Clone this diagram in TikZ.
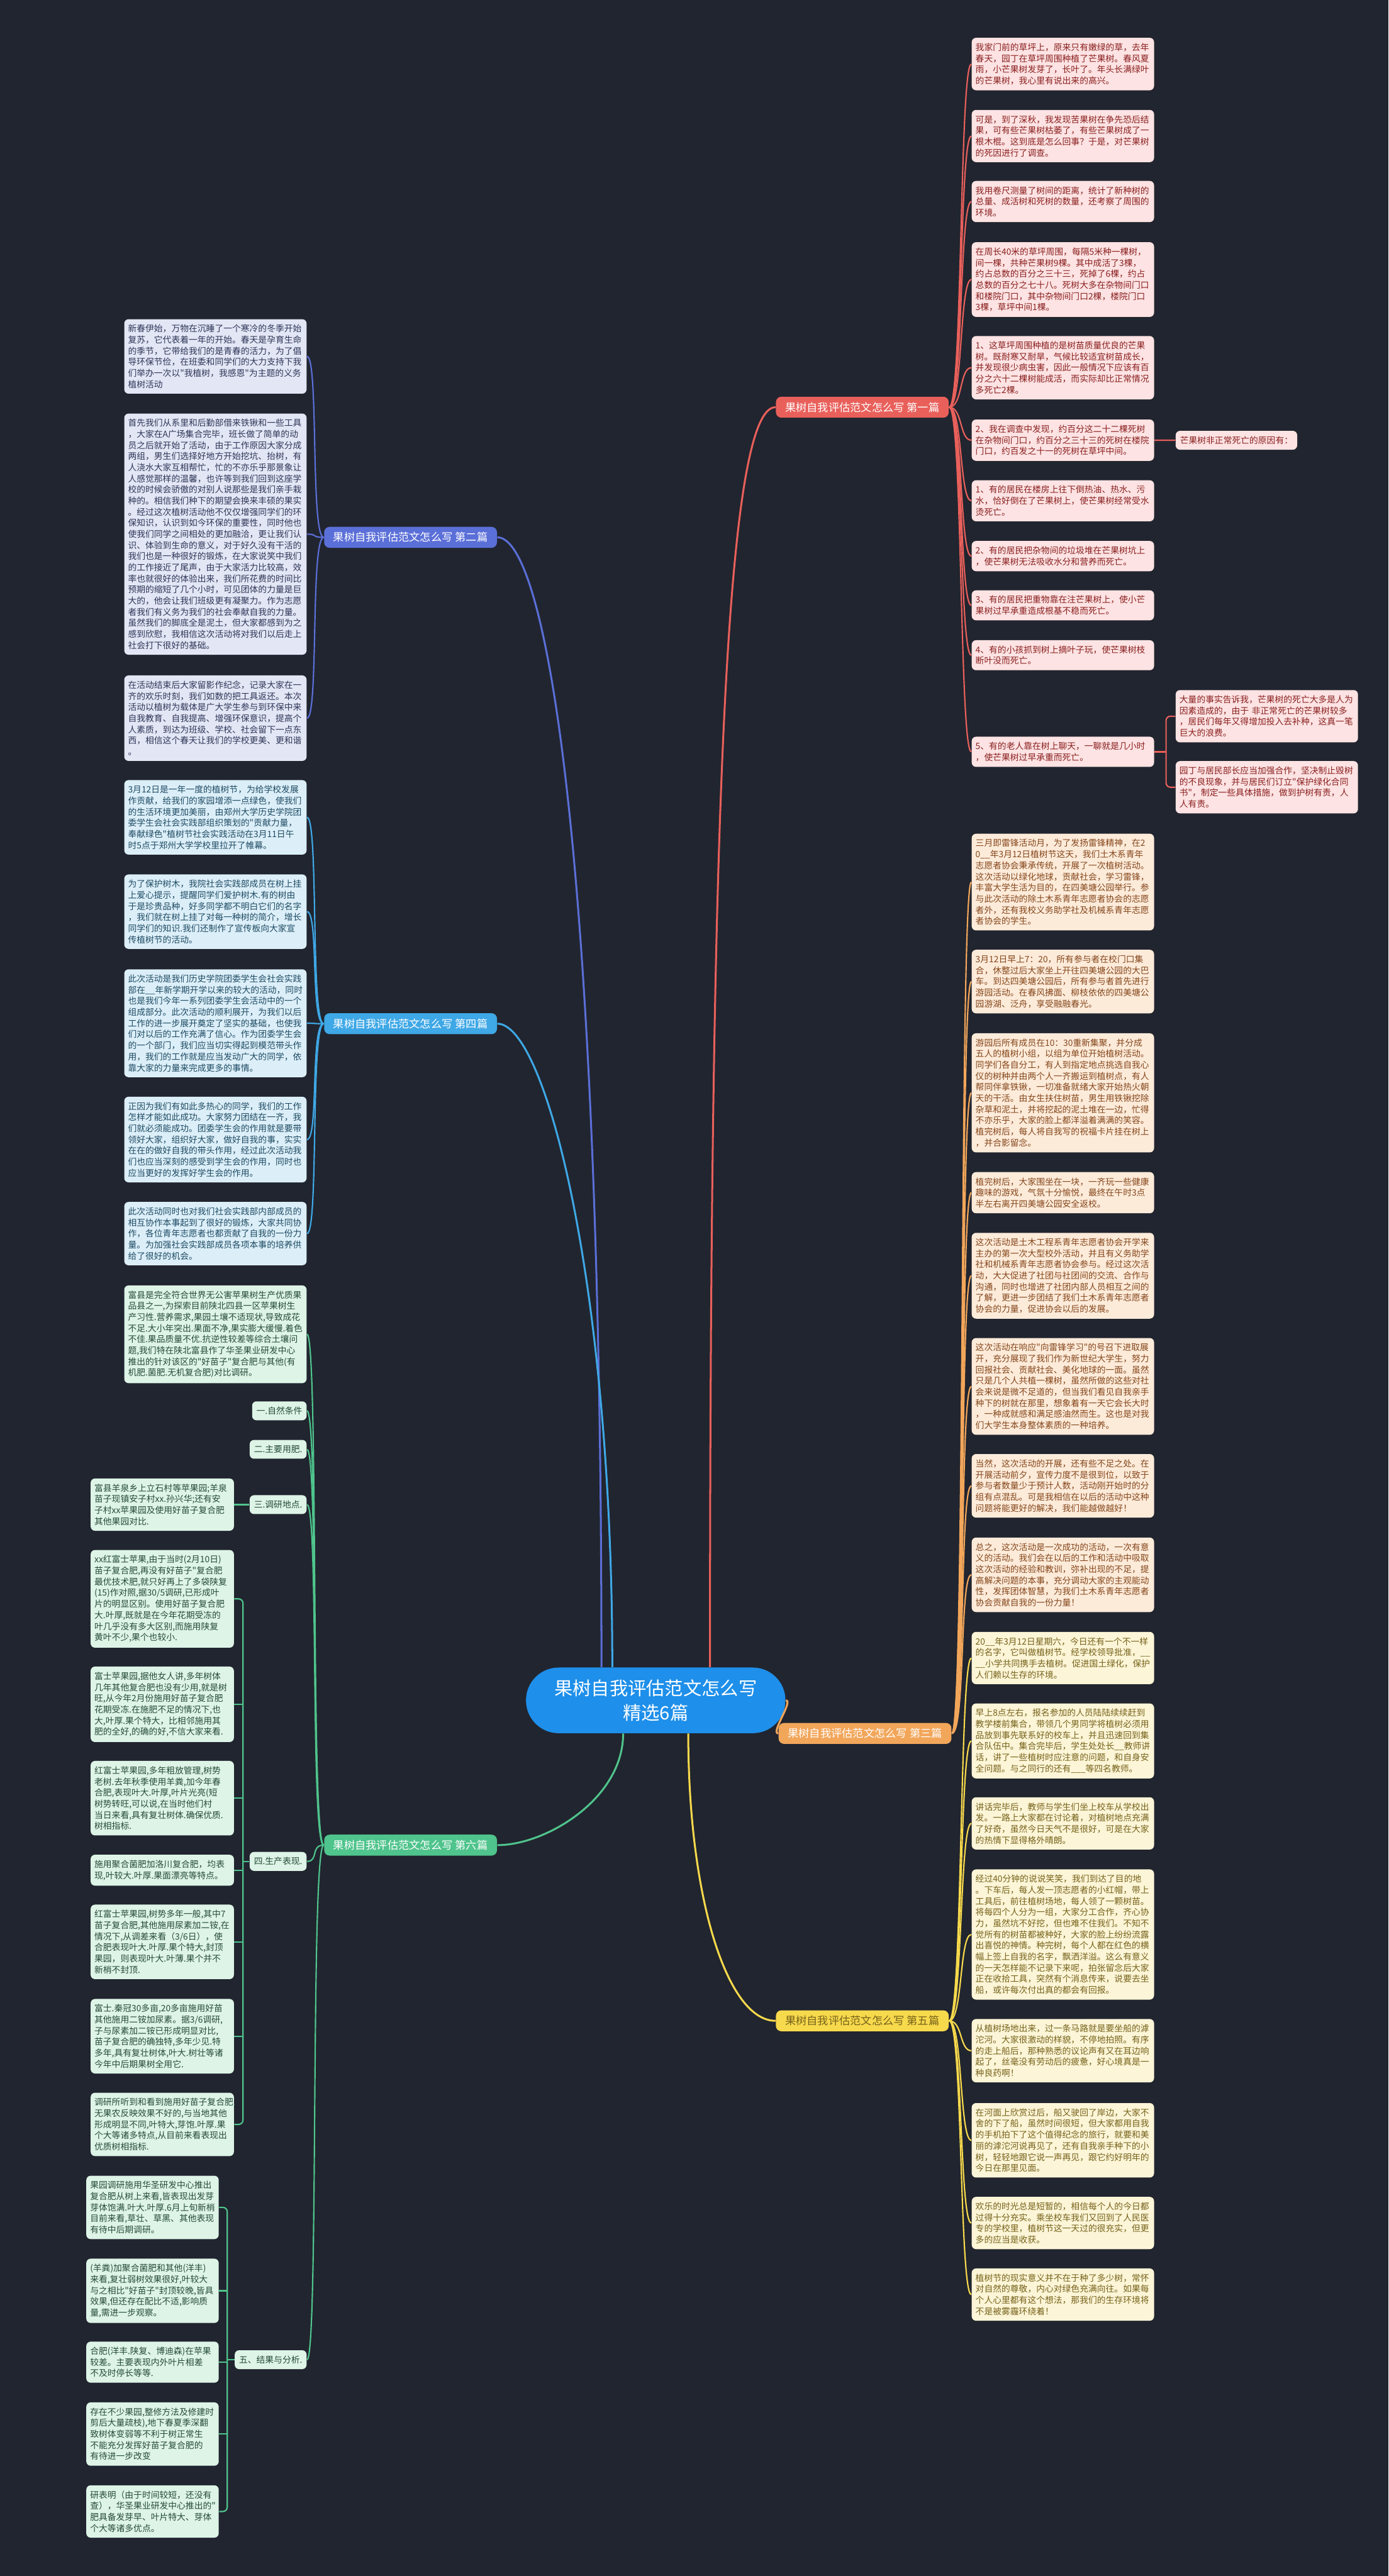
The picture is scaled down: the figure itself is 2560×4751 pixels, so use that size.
\documentclass[tikz,border=0pt]{standalone}
\usepackage{fontspec}
\newfontfamily\cjk{Noto Sans CJK SC}
\definecolor{bgcol}{HTML}{21252F}
\definecolor{ctrcol}{HTML}{1E8FEA}
\definecolor{redcol}{HTML}{E9605B}
\definecolor{redfill}{HTML}{FDE3E3}
\definecolor{redtext}{HTML}{8A1F1F}
\definecolor{orgcol}{HTML}{F2A65A}
\definecolor{orgfill}{HTML}{FDEBDA}
\definecolor{orgtext}{HTML}{84461A}
\definecolor{yelcol}{HTML}{F7D94C}
\definecolor{yelfill}{HTML}{FCF5D7}
\definecolor{yeltext}{HTML}{76621A}
\definecolor{bluecol}{HTML}{5B6FD8}
\definecolor{bluefill}{HTML}{E3E6F5}
\definecolor{bluetext}{HTML}{2E3657}
\definecolor{skycol}{HTML}{3FA8E6}
\definecolor{skyfill}{HTML}{DCEFF9}
\definecolor{skytext}{HTML}{1E4A62}
\definecolor{grncol}{HTML}{4FC48C}
\definecolor{grnfill}{HTML}{DDF4E7}
\definecolor{grntext}{HTML}{274A38}

\begin{document}
\begin{tikzpicture}[x=0.01cm, y=-0.01cm,
  box/.style={rounded corners=0.08cm, inner xsep=0.07cm, inner ysep=0.1cm, align=left,
    font=\cjk\fontsize{4.55}{5.83}\selectfont},
  leaf/.style={box, text width=3.22cm},
  narrow/.style={box, text width=2.5cm},
  narrower/.style={box, text width=2.3cm},
  tag/.style={box, inner xsep=0.08cm},
  redleaf/.style={leaf, fill=redfill, text=redtext, anchor=north west},
  redtag/.style={tag, fill=redfill, text=redtext},
  orgleaf/.style={leaf, fill=orgfill, text=orgtext, anchor=north west},
  yelleaf/.style={leaf, fill=yelfill, text=yeltext, anchor=north west},
  blueleaf/.style={leaf, fill=bluefill, text=bluetext, anchor=north east},
  skyleaf/.style={leaf, fill=skyfill, text=skytext, anchor=north east},
  grnleaf/.style={leaf, fill=grnfill, text=grntext, anchor=north east},
  grnnarrow/.style={narrow, fill=grnfill, text=grntext, anchor=north east},
  grnnarrower/.style={narrower, fill=grnfill, text=grntext, anchor=north east},
  grntag/.style={tag, fill=grnfill, text=grntext, anchor=east},
  branch/.style={rounded corners=0.1cm, inner xsep=0.17cm, inner ysep=0.1cm, text=white,
    font=\cjk\fontsize{5.69}{6.8}\selectfont},
  con/.style={line width=0.025cm},
  maincon/.style={line width=0.035cm}
]
\fill[bgcol] (0,0) rectangle (2560,4751);

% centre
\node[fill=ctrcol, text=white, rounded corners=0.6cm, minimum width=4.78cm, minimum height=1.21cm,
  align=center, font=\cjk\fontsize{9.67}{12.8}\selectfont] (ctr) at (1209,3136)
  {果树自我评估范文怎么写\\精选6篇};

\node[branch, fill=redcol, anchor=east] (br1) at (1750,751) {果树自我评估范文怎么写 第一篇};
\node[branch, fill=orgcol, anchor=east] (br3) at (1755,3197) {果树自我评估范文怎么写 第三篇};
\node[branch, fill=yelcol, text=yeltext, anchor=east] (br5) at (1750,3727) {果树自我评估范文怎么写 第五篇};
\node[branch, fill=bluecol, anchor=west] (br2) at (597,991) {果树自我评估范文怎么写 第二篇};
\node[branch, fill=skycol, anchor=west] (br4) at (597,1888) {果树自我评估范文怎么写 第四篇};
\node[branch, fill=grncol, anchor=west] (br6) at (597,3403) {果树自我评估范文怎么写 第六篇};

% first
\node[redleaf] (b1) at (1791,69) {我家门前的草坪上，原来只有嫩绿的草，去年\\春天，园丁在草坪周围种植了芒果树。春风夏\\雨，小芒果树发芽了，长叶了。年头长满绿叶\\的芒果树，我心里有说出来的高兴。};
\node[redleaf] (b2) at (1791,202) {可是，到了深秋，我发现苦果树在争先恐后结\\果，可有些芒果树枯萎了，有些芒果树成了一\\根木棍。这到底是怎么回事？于是，对芒果树\\的死因进行了调查。};
\node[redleaf] (b3) at (1791,333) {我用卷尺测量了树间的距离，统计了新种树的\\总量、成活树和死树的数量，还考察了周围的\\环境。};
\node[redleaf] (b4) at (1791,446) {在周长40米的草坪周围，每隔5米种一棵树，\\间一棵，共种芒果树9棵。其中成活了3棵，\\约占总数的百分之三十三，死掉了6棵，约占\\总数的百分之七十八。死树大多在杂物间门口\\和楼院门口，其中杂物间门口2棵，楼院门口\\3棵，草坪中间1棵。};
\node[redleaf] (b5) at (1791,619) {1、这草坪周围种植的是树苗质量优良的芒果\\树。既耐寒又耐旱，气候比较适宜树苗成长，\\并发现很少病虫害，因此一般情况下应该有百\\分之六十二棵树能成活，而实际却比正常情况\\多死亡2棵。};
\node[redleaf] (b6) at (1791,773) {2、我在调查中发现，约百分这二十二棵死树\\在杂物间门口，约百分之三十三的死树在楼院\\门口，约百发之十一的死树在草坪中间。};
\node[redleaf] (b7) at (1791,885) {1、有的居民在楼房上往下倒热油、热水、污\\水，恰好倒在了芒果树上，使芒果树经常受水\\烫死亡。};
\node[redleaf] (b8) at (1791,997) {2、有的居民把杂物间的垃圾堆在芒果树坑上\\，使芒果树无法吸收水分和营养而死亡。};
\node[redleaf] (b9) at (1791,1088) {3、有的居民把重物靠在注芒果树上，使小芒\\果树过早承重造成根基不稳而死亡。};
\node[redleaf] (b10) at (1791,1180) {4、有的小孩抓到树上摘叶子玩，使芒果树枝\\断叶没而死亡。};
\node[redleaf] (b11) at (1791,1358) {5、有的老人靠在树上聊天，一聊就是几小时\\，使芒果树过早承重而死亡。};
\node[redtag, anchor=west] (sd) at (2167,812) {芒果树非正常死亡的原因有：};
\node[redleaf] (su1) at (2167,1272) {大量的事实告诉我，芒果树的死亡大多是人为\\因素造成的，由于 非正常死亡的芒果树较多\\，居民们每年又得增加投入去补种，这真一笔\\巨大的浪费。};
\node[redleaf] (su2) at (2167,1403) {园丁与居民部长应当加强合作，坚决制止毁树\\的不良现象，并与居民们订立"保护绿化合同\\书"，制定一些具体措施，做到护树有责，人\\人有责。};

% third
\node[orgleaf] (c1) at (1791,1537) {三月即雷锋活动月，为了发扬雷锋精神，在2\\0\_\_年3月12日植树节这天，我们土木系青年\\志愿者协会秉承传统，开展了一次植树活动。\\这次活动以绿化地球，贡献社会，学习雷锋，\\丰富大学生活为目的，在四美塘公园举行。参\\与此次活动的除土木系青年志愿者协会的志愿\\者外，还有我校义务助学社及机械系青年志愿\\者协会的学生。};
\node[orgleaf] (c2) at (1791,1751) {3月12日早上7：20，所有参与者在校门口集\\合，休整过后大家坐上开往四美塘公园的大巴\\车。到达四美塘公园后，所有参与者首先进行\\游园活动。在春风拂面、柳枝依依的四美塘公\\园游湖、泛舟，享受融融春光。};
\node[orgleaf] (c3) at (1791,1905) {游园后所有成员在10：30重新集聚，并分成\\五人的植树小组，以组为单位开始植树活动。\\同学们各自分工，有人到指定地点挑选自我心\\仪的树种并由两个人一齐搬运到植树点，有人\\帮同伴拿铁锹，一切准备就绪大家开始热火朝\\天的干活。由女生扶住树苗，男生用铁锹挖除\\杂草和泥土，并将挖起的泥土堆在一边，忙得\\不亦乐乎，大家的脸上都洋溢着满满的笑容。\\植完树后，每人将自我写的祝福卡片挂在树上\\，并合影留念。};
\node[orgleaf] (c4) at (1791,2161) {植完树后，大家围坐在一块，一齐玩一些健康\\趣味的游戏，气氛十分愉悦，最终在午时3点\\半左右离开四美塘公园安全返校。};
\node[orgleaf] (c5) at (1791,2273) {这次活动是土木工程系青年志愿者协会开学来\\主办的第一次大型校外活动，并且有义务助学\\社和机械系青年志愿者协会参与。经过这次活\\动，大大促进了社团与社团间的交流、合作与\\沟通，同时也增进了社团内部人员相互之间的\\了解，更进一步团结了我们土木系青年志愿者\\协会的力量，促进协会以后的发展。};
\node[orgleaf] (c6) at (1791,2467) {这次活动在响应"向雷锋学习"的号召下进取展\\开，充分展现了我们作为新世纪大学生，努力\\回报社会、贡献社会、美化地球的一面。虽然\\只是几个人共植一棵树，虽然所做的这些对社\\会来说是微不足道的，但当我们看见自我亲手\\种下的树就在那里，想象着有一天它会长大时\\，一种成就感和满足感油然而生。这也是对我\\们大学生本身整体素质的一种培养。};
\node[orgleaf] (c7) at (1791,2681) {当然，这次活动的开展，还有些不足之处。在\\开展活动前夕，宣传力度不是很到位，以致于\\参与者数量少于预计人数，活动刚开始时的分\\组有点混乱。可是我相信在以后的活动中这种\\问题将能更好的解决，我们能越做越好！};
\node[orgleaf] (c8) at (1791,2835) {总之，这次活动是一次成功的活动，一次有意\\义的活动。我们会在以后的工作和活动中吸取\\这次活动的经验和教训，弥补出现的不足，提\\高解决问题的本事，充分调动大家的主观能动\\性，发挥团体智慧，为我们土木系青年志愿者\\协会贡献自我的一份力量！};

% fifth
\node[yelleaf] (e1) at (1791,3009) {20\_\_年3月12日星期六，今日还有一个不一样\\的名字，它叫做植树节。经学校领导批准，\_\_\\\_\_小学共同携手去植树。促进国土绿化，保护\\人们赖以生存的环境。};
\node[yelleaf] (e2) at (1791,3141) {早上8点左右，报名参加的人员陆陆续续赶到\\教学楼前集合，带领几个男同学将植树必须用\\品放到事先联系好的校车上，并且迅速回到集\\合队伍中。集合完毕后，学生处处长\_\_教师讲\\话，讲了一些植树时应注意的问题，和自身安\\全问题。与之同行的还有\_\_\_等四名教师。};
\node[yelleaf] (e3) at (1791,3314) {讲话完毕后，教师与学生们坐上校车从学校出\\发。一路上大家都在讨论着，对植树地点充满\\了好奇，虽然今日天气不是很好，可是在大家\\的热情下显得格外晴朗。};
\node[yelleaf] (e4) at (1791,3447) {经过40分钟的说说笑笑，我们到达了目的地\\。下车后，每人发一顶志愿者的小红帽，带上\\工具后，前往植树场地，每人领了一颗树苗。\\将每四个人分为一组，大家分工合作，齐心协\\力，虽然坑不好挖，但也难不住我们。不知不\\觉所有的树苗都被种好，大家的脸上纷纷流露\\出喜悦的神情。种完树，每个人都在红色的横\\幅上签上自我的名字，飘洒洋溢。这么有意义\\的一天怎样能不记录下来呢，拍张留念后大家\\正在收拾工具，突然有个消息传来，说要去坐\\船，或许每次付出真的都会有回报。};
\node[yelleaf] (e5) at (1791,3723) {从植树场地出来，过一条马路就是要坐船的滹\\沱河。大家很激动的样貌，不停地拍照。有序\\的走上船后，那种熟悉的议论声有又在耳边响\\起了，丝毫没有劳动后的疲惫，好心境真是一\\种良药啊！};
\node[yelleaf] (e6) at (1791,3878) {在河面上欣赏过后，船又驶回了岸边，大家不\\舍的下了船，虽然时间很短，但大家都用自我\\的手机拍下了这个值得纪念的旅行，就要和美\\丽的滹沱河说再见了，还有自我亲手种下的小\\树，轻轻地跟它说一声再见，跟它约好明年的\\今日在那里见面。};
\node[yelleaf] (e7) at (1791,4051) {欢乐的时光总是短暂的，相信每个人的今日都\\过得十分充实。乘坐校车我们又回到了人民医\\专的学校里，植树节这一天过的很充实，但更\\多的应当是收获。};
\node[yelleaf] (e8) at (1791,4183) {植树节的现实意义并不在于种了多少树，常怀\\对自然的尊敬，内心对绿色充满向往。如果每\\个人心里都有这个想法，那我们的生存环境将\\不是被雾霾环绕着！};

% second
\node[blueleaf] (l1) at (566,588) {新春伊始，万物在沉睡了一个寒冷的冬季开始\\复苏，它代表着一年的开始。春天是孕育生命\\的季节，它带给我们的是青春的活力，为了倡\\导环保节俭，在班委和同学们的大力支持下我\\们举办一次以"我植树，我感恩"为主题的义务\\植树活动};
\node[blueleaf] (l2) at (566,762) {首先我们从系里和后勤部借来铁锹和一些工具\\，大家在A广场集合完毕，班长做了简单的动\\员之后就开始了活动，由于工作原因大家分成\\两组，男生们选择好地方开始挖坑、抬树，有\\人浇水大家互相帮忙，忙的不亦乐乎那景象让\\人感觉那样的温馨，也许等到我们回到这座学\\校的时候会骄傲的对别人说那些是我们亲手栽\\种的。相信我们种下的期望会换来丰硕的果实\\。经过这次植树活动他不仅仅增强同学们的环\\保知识，认识到如今环保的重要性，同时他也\\使我们同学之间相处的更加融洽，更让我们认\\识、体验到生命的意义，对于好久没有干活的\\我们也是一种很好的锻炼，在大家说笑中我们\\的工作接近了尾声，由于大家活力比较高，效\\率也就很好的体验出来，我们所花费的时间比\\预期的缩短了几个小时，可见团体的力量是巨\\大的，他会让我们班级更有凝聚力。作为志愿\\者我们有义务为我们的社会奉献自我的力量。\\虽然我们的脚底全是泥土，但大家都感到为之\\感到欣慰，我相信这次活动将对我们以后走上\\社会打下很好的基础。};
\node[blueleaf] (l3) at (566,1245) {在活动结束后大家留影作纪念，记录大家在一\\齐的欢乐时刻，我们如数的把工具返还。本次\\活动以植树为载体是广大学生参与到环保中来\\自我教育、自我提高、增强环保意识，提高个\\人素质，到达为班级、学校、社会留下一点东\\西，相信这个春天让我们的学校更美、更和谐\\。};

% fourth
\node[skyleaf] (m1) at (566,1438) {3月12日是一年一度的植树节，为给学校发展\\作贡献，给我们的家园增添一点绿色，使我们\\的生活环境更加美丽，由郑州大学历史学院团\\委学生会社会实践部组织策划的"贡献力量，\\奉献绿色"植树节社会实践活动在3月11日午\\时5点于郑州大学学校里拉开了帷幕。};
\node[skyleaf] (m2) at (566,1612) {为了保护树木，我院社会实践部成员在树上挂\\上爱心提示，提醒同学们爱护树木.有的树由\\于是珍贵品种，好多同学都不明白它们的名字\\，我们就在树上挂了对每一种树的简介，增长\\同学们的知识.我们还制作了宣传板向大家宣\\传植树节的活动。};
\node[skyleaf] (m3) at (566,1787) {此次活动是我们历史学院团委学生会社会实践\\部在\_\_年新学期开学以来的较大的活动，同时\\也是我们今年一系列团委学生会活动中的一个\\组成部分。此次活动的顺利展开，为我们以后\\工作的进一步展开奠定了坚实的基础，也使我\\们对以后的工作充满了信心。作为团委学生会\\的一个部门，我们应当切实得起到模范带头作\\用，我们的工作就是应当发动广大的同学，依\\靠大家的力量来完成更多的事情。};
\node[skyleaf] (m4) at (566,2022) {正因为我们有如此多热心的同学，我们的工作\\怎样才能如此成功。大家努力团结在一齐，我\\们就必须能成功。团委学生会的作用就是要带\\领好大家，组织好大家，做好自我的事，实实\\在在的做好自我的带头作用，经过此次活动我\\们也应当深刻的感受到学生会的作用，同时也\\应当更好的发挥好学生会的作用。};
\node[skyleaf] (m5) at (566,2216) {此次活动同时也对我们社会实践部内部成员的\\相互协作本事起到了很好的锻炼，大家共同协\\作，各位青年志愿者也都贡献了自我的一份力\\量。为加强社会实践部成员各项本事的培养供\\给了很好的机会。};

% sixth
\node[grnleaf] (n0) at (566,2370) {富县是完全符合世界无公害苹果树生产优质果\\品县之一,为探索目前陕北四县一区苹果树生\\产习性.营养需求,果园土壤不适现状,导致成花\\不足.大小年突出.果面不净,果实膨大缓慢.着色\\不佳.果品质量不优.抗逆性较差等综合土壤问\\题,我们特在陕北富县作了华圣果业研发中心\\推出的针对该区的"好苗子"复合肥与其他(有\\机肥.菌肥.无机复合肥)对比调研。};
\node[grntag] (s1) at (566,2602) {一.自然条件};
\node[grntag] (s2) at (566,2673) {二.主要用肥.};
\node[grntag] (s3) at (566,2775) {三.调研地点.};
\node[grntag] (s4) at (566,3433) {四.生产表现.};
\node[grntag] (s5) at (566,4352) {五、结果与分析.};
\node[grnnarrow, anchor=east] (k1) at (432,2775) {富县羊泉乡上立石村等苹果园;羊泉\\苗子现镇安子村xx.孙兴华;还有安\\子村xx苹果园及使用好苗子复合肥\\其他果园对比.};
\node[grnnarrow] (f1) at (432,2858) {xx红富士苹果,由于当时(2月10日)\\苗子复合肥,再没有好苗子"复合肥\\最优技术肥,就只好再上了多袋陕复\\(15)作对照,据30/5调研,已形成叶\\片的明显区别。使用好苗子复合肥\\大.叶厚,既就是在今年花期受冻的\\叶几乎没有多大区别,而施用陕复\\黄叶不少,果个也较小.};
\node[grnnarrow] (f2) at (432,3073) {富士苹果园,据他女人讲,多年树体\\几年其他复合肥也没有少用,就是树\\旺,从今年2月份施用好苗子复合肥\\花期受冻.在施肥不足的情况下,也\\大,叶厚.果个特大，比相邻施用其\\肥的全好,的确的好,不信大家来看.};
\node[grnnarrow] (f3) at (432,3247) {红富士苹果园,多年粗放管理,树势\\老树.去年秋季使用羊粪,加今年春\\合肥,表现叶大.叶厚,叶片光亮(短\\树势转旺,可以说,在当时他们村\\当日来看,具有复壮树体.确保优质.\\树相指标.};
\node[grnnarrow] (f4) at (432,3420) {施用聚合菌肥加洛川复合肥，均表\\现,叶较大.叶厚.果面漂亮等特点。};
\node[grnnarrow] (f5) at (432,3512) {红富士苹果园,树势多年一般,其中7\\苗子复合肥,其他施用尿素加二铵,在\\情况下,从调差来看（3/6日），使\\合肥表现叶大.叶厚.果个特大,封顶\\果园，则表现叶大.叶薄.果个并不\\新梢不封顶.};
\node[grnnarrow] (f6) at (432,3686) {富士.秦冠30多亩,20多亩施用好苗\\其他施用二铵加尿素。据3/6调研,\\子与尿素加二铵已形成明显对比,\\苗子复合肥的确独特,多年少见.特\\多年,具有复壮树体,叶大.树壮等诸\\今年中后期果树全用它.};
\node[grnnarrow] (f7) at (432,3859) {调研所听到和看到施用好苗子复合肥,\\无果农反映效果不好的,与当地其他\\形成明显不同,叶特大,芽饱.叶厚.果\\个大等诸多特点,从目前来看表现出\\优质树相指标.};
\node[grnnarrower] (g1) at (404,4012) {果园调研施用华圣研发中心推出\\复合肥从树上来看,皆表现出发芽\\芽体饱满.叶大.叶厚.6月上旬新梢\\目前来看,草壮、草黑、其他表现\\有待中后期调研。};
\node[grnnarrower] (g2) at (404,4165) {(羊粪)加聚合菌肥和其他(洋丰)\\来看,复壮弱树效果很好,叶较大\\与之相比"好苗子"封顶较晚,皆具\\效果,但还存在配比不适,影响质\\量,需进一步观察。};
\node[grnnarrower] (g3) at (404,4318) {合肥(洋丰.陕复、博迪森)在苹果\\较差。主要表现内外叶片相差\\不及时停长等等.};
\node[grnnarrower] (g4) at (404,4430) {存在不少果园,整修方法及修建时\\剪后大量疏枝),地下春夏季深翻\\致树体变弱等不利于树正常生\\不能充分发挥好苗子复合肥的\\有待进一步改变};
\node[grnnarrower] (g5) at (404,4583) {研表明（由于时间较短，还没有\\查），华圣果业研发中心推出的"\\肥具备发芽早、叶片特大、芽体\\个大等诸多优点。};

% centre to branches
\draw[maincon, redcol] ([xshift=1cm]ctr.north) .. controls +(0,-1600) and +(-90,0) .. (br1.west);
\draw[maincon, bluecol] ([xshift=-1cm]ctr.north) .. controls +(0,-1500) and +(90,0) .. (br2.east);
\draw[maincon, skycol] ([xshift=-0.8cm]ctr.north) .. controls +(0,-700) and +(90,0) .. (br4.east);
\draw[maincon, grncol] ([xshift=-0.6cm]ctr.south) .. controls +(0,120) and +(90,0) .. (br6.east);
\draw[maincon, yelcol] ([xshift=0.6cm]ctr.south) .. controls +(0,300) and +(-90,0) .. (br5.west);
\draw[maincon, orgcol] (ctr.east) .. controls +(15,0) and +(-15,0) .. (br3.west);

% branches to leaves
\foreach \n in {b1,b2,b3,b4,b5,b6,b7,b8,b9,b10,b11}
  \draw[con, redcol] (br1.east) .. controls +(25,0) and +(-22,0) .. (\n.west);
\foreach \n in {c1,c2,c3,c4,c5,c6,c7,c8}
  \draw[con, orgcol] (br3.east) .. controls +(25,0) and +(-22,0) .. (\n.west);
\foreach \n in {e1,e2,e3,e4,e5,e6,e7,e8}
  \draw[con, yelcol] (br5.east) .. controls +(25,0) and +(-22,0) .. (\n.west);
\foreach \n in {l1,l2,l3}
  \draw[con, bluecol] (br2.west) .. controls +(-25,0) and +(22,0) .. (\n.east);
\foreach \n in {m1,m2,m3,m4,m5}
  \draw[con, skycol] (br4.west) .. controls +(-25,0) and +(22,0) .. (\n.east);
\foreach \n in {n0,s1,s2,s3,s4,s5}
  \draw[con, grncol] (br6.west) .. controls +(-25,0) and +(22,0) .. (\n.east);

% sub levels
\draw[con, redcol] (b6.east) -- (sd.west);
\coordinate (spr) at (2150,0);
\draw[con, redcol] (b11.east) -- (spr |- b11.east);
\draw[con, redcol, rounded corners=0.08cm] (su1.west) -- (spr |- su1.west) -- (spr |- su2.west) -- (su2.west);
\draw[con, grncol] (s3.west) -- (k1.east);
\coordinate (sp4) at (448,0);
\draw[con, grncol] (s4.west) -- (sp4 |- s4.west);
\draw[con, grncol, rounded corners=0.08cm] (f1.east) -- (sp4 |- f1.east) -- (sp4 |- f7.east) -- (f7.east);
\foreach \n in {f2,f3,f4,f5,f6}
  \draw[con, grncol] (\n.east) -- (sp4 |- \n.east);
\coordinate (sp5) at (419,0);
\draw[con, grncol] (s5.west) -- (sp5 |- s5.west);
\draw[con, grncol, rounded corners=0.08cm] (g1.east) -- (sp5 |- g1.east) -- (sp5 |- g5.east) -- (g5.east);
\foreach \n in {g2,g3,g4}
  \draw[con, grncol] (\n.east) -- (sp5 |- \n.east);
\end{tikzpicture}
\end{document}
